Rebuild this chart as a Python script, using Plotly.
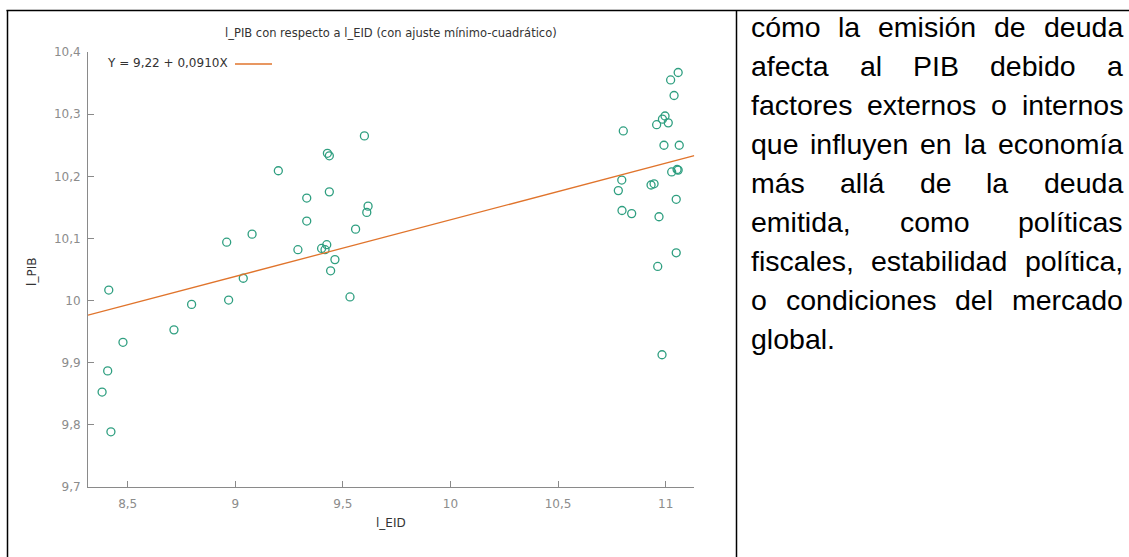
import plotly.graph_objects as go

W = 1129
H_FIG = 564          # figure height in page pixels
Y_OFF = 7.0          # viewer maps page y -> Y_OFF + Y_SCALE * y
Y_SCALE = 0.9755

# ---------------- data ----------------
l_EID = [8.381, 8.422, 8.407, 8.478, 8.412, 8.715, 8.797, 8.960, 8.969, 9.037,
         9.078, 9.200, 9.291, 9.332, 9.332, 9.437, 9.401, 9.417, 9.425, 9.463,
         9.443, 9.533, 9.559, 9.611, 9.617, 9.428, 9.437, 9.600,
         11.058, 11.023, 11.039, 10.803, 10.958, 10.985, 10.997, 11.012, 10.992, 11.063,
         11.028, 11.058, 11.053, 10.796, 10.780, 10.932, 10.946, 11.049, 10.797, 10.842,
         10.969, 11.049, 10.963, 10.983]
l_PIB = [9.853, 9.789, 9.887, 9.933, 10.017, 9.953, 9.994, 10.094, 10.001, 10.036,
         10.107, 10.209, 10.082, 10.128, 10.165, 10.175, 10.084, 10.082, 10.090, 10.066,
         10.048, 10.006, 10.115, 10.142, 10.152, 10.237, 10.233, 10.265,
         10.367, 10.355, 10.330, 10.273, 10.283, 10.292, 10.297, 10.286, 10.250, 10.250,
         10.207, 10.210, 10.211, 10.194, 10.177, 10.186, 10.188, 10.163, 10.145, 10.140,
         10.135, 10.077, 10.055, 9.913]

INTERCEPT = 9.22
SLOPE = 0.0910

X_RANGE = [8.3155, 11.133]
Y_RANGE = [9.7, 10.4]
X_TICKS = [8.5, 9, 9.5, 10, 10.5, 11]
X_TICK_TEXT = ["8,5", "9", "9,5", "10", "10,5", "11"]
Y_TICKS = [9.7, 9.8, 9.9, 10.0, 10.1, 10.2, 10.3, 10.4]
Y_TICK_TEXT = ["9,7", "9,8", "9,9", "10", "10,1", "10,2", "10,3", "10,4"]

TITLE = "l_PIB con respecto a l_EID (con ajuste mínimo-cuadrático)"
LEGEND_TEXT = "Y = 9,22 + 0,0910X"
X_LABEL = "l_EID"
Y_LABEL = "l_PIB"

PARAGRAPH = [
    "cómo la emisión de deuda",
    "afecta al PIB debido a",
    "factores externos o internos",
    "que influyen en la economía",
    "más allá de la deuda",
    "emitida, como políticas",
    "fiscales, estabilidad política,",
    "o condiciones del mercado",
    "global.",
]

# ---------------- styling ----------------
POINT_COLOR = "#2f9f80"
LINE_COLOR = "#e0742c"
AXIS_COLOR = "#8a8a8a"
TICK_TEXT_COLOR = "#8c8c8c"
CHART_FONT = "DejaVu Sans"
DOC_FONT = "Liberation Sans, Arial, sans-serif"

# plot-area in (target picture) pixels
PL, PR, PT, PB = 88, 694.3, 52, 487.3


def fx(px):
    return px / W


def fy(py):
    page_y = (py - Y_OFF) / Y_SCALE
    return 1 - page_y / H_FIG


fit_x = list(X_RANGE)
fit_y = [INTERCEPT + SLOPE * v for v in fit_x]

fig = go.Figure()
fig.add_trace(go.Scatter(
    x=l_EID, y=l_PIB, mode="markers", showlegend=False, cliponaxis=False,
    marker=dict(symbol="circle-open", size=8, color=POINT_COLOR,
                line=dict(width=1.3, color=POINT_COLOR)),
))
fig.add_trace(go.Scatter(
    x=fit_x, y=fit_y, mode="lines", showlegend=False,
    line=dict(color=LINE_COLOR, width=1.3),
))

axis_common = dict(
    showline=True, linecolor=AXIS_COLOR, linewidth=1,
    ticks="inside", ticklen=6, tickcolor=AXIS_COLOR, tickwidth=1,
    showgrid=False, zeroline=False,
    tickfont=dict(family=CHART_FONT, size=12, color=TICK_TEXT_COLOR),
)
fig.update_layout(
    width=W, height=H_FIG,
    margin=dict(l=0, r=0, t=0, b=0),
    paper_bgcolor="white", plot_bgcolor="white",
    xaxis=dict(domain=[fx(PL), fx(PR)], range=X_RANGE,
               tickmode="array", tickvals=X_TICKS, ticktext=X_TICK_TEXT,
               ticklabelstandoff=5, **axis_common),
    yaxis=dict(domain=[fy(PB), fy(PT)], range=Y_RANGE,
               tickmode="array", tickvals=Y_TICKS, ticktext=Y_TICK_TEXT,
               ticklabelstandoff=4, **axis_common),
)

annotations = []
# chart title
annotations.append(dict(text=TITLE, x=fx(391), y=fy(33), xref="paper", yref="paper",
                        xanchor="center", yanchor="middle", showarrow=False,
                        font=dict(family=CHART_FONT, size=11.5, color="#333333")))
# axis titles
annotations.append(dict(text=X_LABEL, x=fx(391), y=fy(523), xref="paper", yref="paper",
                        xanchor="center", yanchor="middle", showarrow=False,
                        font=dict(family=CHART_FONT, size=12, color="#333333")))
annotations.append(dict(text=Y_LABEL, x=fx(32), y=fy(272), xref="paper", yref="paper",
                        xanchor="center", yanchor="middle", showarrow=False, textangle=-90,
                        font=dict(family=CHART_FONT, size=12, color="#333333")))
# legend (text left, key line right, like gretl)
annotations.append(dict(text=LEGEND_TEXT, x=fx(230), y=fy(63), xref="paper", yref="paper",
                        xanchor="right", yanchor="middle", showarrow=False,
                        font=dict(family=CHART_FONT, size=12, color="#333333")))

shapes = [
    dict(type="line", xref="paper", yref="paper", x0=fx(235), x1=fx(272),
         y0=fy(64), y1=fy(64), line=dict(color=LINE_COLOR, width=1.3)),
    # table borders
    dict(type="line", xref="paper", yref="paper", x0=fx(6.5), x1=fx(1129),
         y0=fy(10.5), y1=fy(10.5), line=dict(color="black", width=1.5)),
    dict(type="line", xref="paper", yref="paper", x0=fx(7.5), x1=fx(7.5),
         y0=fy(10), y1=fy(570), line=dict(color="black", width=1.5)),
    dict(type="line", xref="paper", yref="paper", x0=fx(736.5), x1=fx(736.5),
         y0=fy(10), y1=fy(570), line=dict(color="black", width=1.5)),
]

# justified paragraph (Arial / Liberation Sans advance widths, per 1000 em)
ARIAL = {
    "a": 556, "b": 556, "c": 500, "d": 556, "e": 556, "f": 278, "g": 556, "h": 556,
    "i": 222, "j": 222, "k": 500, "l": 222, "m": 833, "n": 556, "o": 556, "p": 556,
    "q": 556, "r": 333, "s": 500, "t": 278, "u": 556, "v": 500, "w": 722, "x": 500,
    "y": 500, "z": 500, "P": 667, "I": 278, "B": 667, "á": 556, "í": 278, "ó": 556,
    ",": 278, ".": 278, " ": 278,
}
FS = 28.5
TEXT_L, TEXT_R = 751, 1123
BASE0, LEAD = 37, 39


def wwidth(word):
    return sum(ARIAL.get(ch, 556) for ch in word) / 1000 * FS


for i, line in enumerate(PARAGRAPH):
    words = line.split(" ")
    ycen = BASE0 + i * LEAD - 0.3465 * FS
    widths = [wwidth(w) for w in words]
    if i == len(PARAGRAPH) - 1 or len(words) == 1:
        gap = ARIAL[" "] / 1000 * FS
    else:
        gap = (TEXT_R - TEXT_L - sum(widths)) / (len(words) - 1)
    xpos = TEXT_L
    for w, wd in zip(words, widths):
        annotations.append(dict(text=w, x=fx(xpos), y=fy(ycen), xref="paper", yref="paper",
                                xanchor="left", yanchor="middle", showarrow=False,
                                borderpad=0, borderwidth=0,
                                font=dict(family=DOC_FONT, size=FS, color="black")))
        xpos += wd + gap

fig.update_layout(annotations=annotations, shapes=shapes)
fig.write_html(
    "out.html",
    config={"displayModeBar": False},
    post_script=(
        "document.body.style.margin='0';document.body.style.padding='0';"
        "document.body.style.overflow='hidden';"
        "document.documentElement.style.overflow='hidden';"
    ),
)
